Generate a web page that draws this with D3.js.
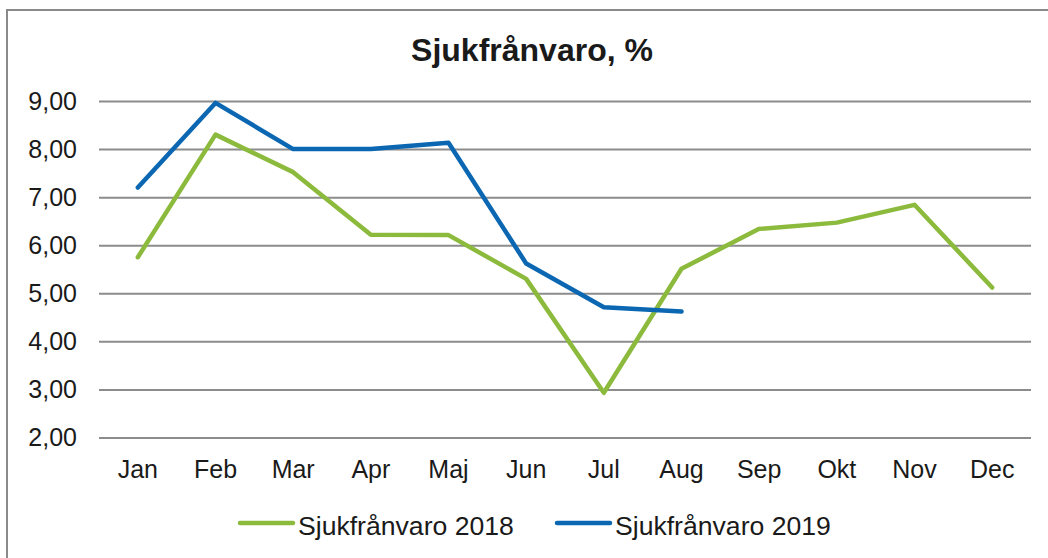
<!DOCTYPE html>
<html>
<head>
<meta charset="utf-8">
<script src="https://cdn.jsdelivr.net/npm/d3@7"></script>
<style>
  body { margin: 0; background: #fff; }
  text { font-family: "Liberation Sans", Arial, sans-serif; fill: #1a1a1a; }
</style>
</head>
<body>
<div id="chart"></div>
<script>
// chart data
var months = ["Jan", "Feb", "Mar", "Apr", "Maj", "Jun", "Jul", "Aug", "Sep", "Okt", "Nov", "Dec"];
var values2018 = [5.75, 8.3, 7.52, 6.22, 6.21, 5.3, 2.93, 5.51, 6.34, 6.47, 6.84, 5.12];
var values2019 = [7.2, 8.96, 8.0, 8.0, 8.13, 5.62, 4.71, 4.62];
var seriesNames = ["Sjukfrånvaro 2018", "Sjukfrånvaro 2019"];
var yTicks = [2, 3, 4, 5, 6, 7, 8, 9];

var svgWidth = 1048;
var svgHeight = 558;

var margin = { top: 101, right: 17, bottom: 120.5, left: 99 };
var width = svgWidth - margin.left - margin.right;
var height = svgHeight - margin.top - margin.bottom;

var colors = ["#8cba3c", "#0b67b2"];

var svg = d3.select("#chart")
  .append("svg")
  .attr("width", svgWidth)
  .attr("height", svgHeight);

// outer frame
svg.append("rect")
  .attr("x", 7)
  .attr("y", 10)
  .attr("width", svgWidth + 20)
  .attr("height", svgHeight + 20)
  .attr("fill", "none")
  .attr("stroke", "#8a8a8a")
  .attr("stroke-width", 2);

svg.append("text")
  .attr("x", 532)
  .attr("y", 61)
  .attr("text-anchor", "middle")
  .attr("font-size", "32px")
  .attr("font-weight", "bold")
  .text("Sjukfrånvaro, %");

var chartGroup = svg.append("g")
  .attr("transform", `translate(${margin.left}, ${margin.top})`);

var xScale = d3.scaleBand()
  .domain(months)
  .range([0, width]);

var yScale = d3.scaleLinear()
  .domain([2, 9])
  .range([height, 0]);

// y axis with gridlines
var leftAxis = d3.axisLeft(yScale)
  .tickValues(yTicks)
  .tickSize(-width)
  .tickPadding(22)
  .tickFormat(d => d3.format(".2f")(d).replace(".", ","));

var yAxis = chartGroup.append("g").call(leftAxis);
yAxis.select(".domain").remove();
yAxis.selectAll("line")
  .attr("stroke", "#8c8c8c")
  .attr("stroke-width", 2);
yAxis.selectAll("text")
  .attr("font-size", "25px")
  .attr("font-family", "Liberation Sans, Arial, sans-serif")
  .attr("fill", "#1a1a1a");

// x axis labels
var bottomAxis = d3.axisBottom(xScale)
  .tickSize(0)
  .tickPadding(23);

var xAxis = chartGroup.append("g")
  .attr("transform", `translate(0, ${height})`)
  .call(bottomAxis);
xAxis.select(".domain").remove();
xAxis.selectAll("text")
  .attr("font-size", "25px")
  .attr("font-family", "Liberation Sans, Arial, sans-serif")
  .attr("fill", "#1a1a1a");

// lines
var line = d3.line()
  .x((d, i) => xScale(months[i]) + xScale.bandwidth() / 2)
  .y(d => yScale(d));

[values2018, values2019].forEach(function(vals, i) {
  chartGroup.append("path")
    .datum(vals)
    .attr("d", line)
    .attr("fill", "none")
    .attr("stroke", colors[i])
    .attr("stroke-width", 4.5)
    .attr("stroke-linejoin", "round")
    .attr("stroke-linecap", "round");
});

// legend
var legendX = [240, 557];
var legend = svg.selectAll(".legend")
  .data(seriesNames)
  .enter()
  .append("g")
  .attr("transform", (d, i) => `translate(${legendX[i]}, 523)`);

legend.append("line")
  .attr("x1", 0)
  .attr("x2", 53)
  .attr("stroke", (d, i) => colors[i])
  .attr("stroke-width", 4.5)
  .attr("stroke-linecap", "round");

legend.append("text")
  .attr("x", 58)
  .attr("y", 12)
  .attr("font-size", "26.6px")
  .text(d => d);
</script>
</body>
</html>
